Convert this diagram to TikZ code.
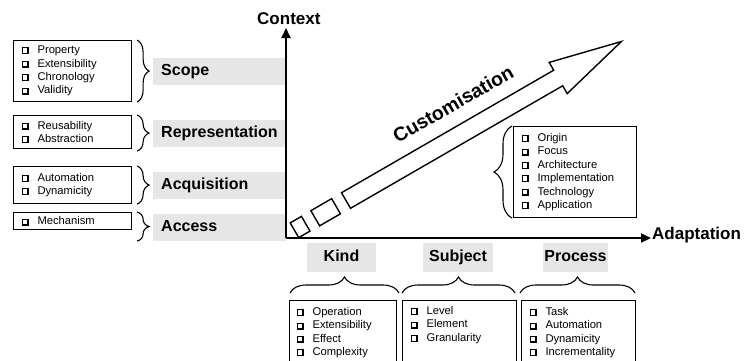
\documentclass[tikz,border=0pt]{standalone}
\usepackage{fontspec}
\setmainfont{Liberation Sans}
\usetikzlibrary{arrows.meta,decorations.pathreplacing}
\definecolor{labelgray}{RGB}{230,230,230}
% shadowed check box in front of every list item, built from rules
\newcommand\cbx{%
  \rlap{\rule[-0.8pt]{7pt}{7pt}}%
  \rlap{\hspace{1pt}\textcolor{white}{\rule[0.7pt]{4.5pt}{4.5pt}}}%
  \hspace{7pt}}
\newcommand\itm[1]{\makebox[16pt][l]{\cbx}#1}

\begin{document}
\begin{tikzpicture}[x=1pt,y=-1pt,
  listbox/.style={draw, line width=1.1pt, anchor=north west, inner xsep=8pt,
    inner ysep=0pt, align=left, font=\fontsize{11.2}{13.4}\selectfont},
  leftlabel/.style={fill=labelgray, anchor=west, minimum height=27pt,
    text width=117pt, inner xsep=8pt, inner ysep=0pt, align=left,
    text height=11.5pt, text depth=3.5pt,
    font=\bfseries\fontsize{16}{16}\selectfont},
  botlabel/.style={fill=labelgray, minimum height=29pt, inner sep=0pt,
    text height=11.5pt, text depth=3.5pt,
    font=\bfseries\fontsize{16}{16}\selectfont},
  axislabel/.style={inner sep=0pt, font=\bfseries\fontsize{17}{17}\selectfont},
  bracestyle/.style={line width=1.1pt, decorate,
    decoration={brace, amplitude=#1}},
  axis/.style={line width=2pt, -{Triangle[width=9pt,length=10pt]}},
  shapeline/.style={line width=1.4pt, line join=miter, fill=white}
]
\useasboundingbox (0,0) rectangle (751,360);
\clip (0,0) rectangle (751,360);

% grey category labels along the Context axis
\node[leftlabel] (scope) at (153,71.5) {Scope};
\node[leftlabel] (repr)  at (153,133.5) {Representation};
\node[leftlabel] (acq)   at (153,185.5) {Acquisition};
\node[leftlabel] (acc)   at (153,227) {Access};

% grey category labels below the Adaptation axis
\node[botlabel, minimum width=69pt] (kind)    at (341.5,257.5) {Kind};
\node[botlabel, minimum width=70pt] (subject) at (458,257.5) {Subject};
\node[botlabel, minimum width=65pt] (process) at (575.5,257.5) {Process};

% axes
\coordinate (O) at (286,238);
\coordinate (ytip) at (286,28);
\coordinate (xtip) at (651,238);
\draw[axis] (O) -- (ytip);
\draw[axis] (O) -- (xtip);
\node[axislabel, anchor=base west] (ctx) at (257,24) {Context};
\node[axislabel, anchor=base west] (adapt) at (652,239.5) {Adaptation};

% item lists on the left
\node[listbox, text width=102pt, minimum height=61pt] (scopebox) at (13,40)
  {\itm{Property}\\\itm{Extensibility}\\\itm{Chronology}\\\itm{Validity}};
\node[listbox, text width=102pt, minimum height=33pt] (reprbox) at (13,115)
  {\itm{Reusability}\\\itm{Abstraction}};
\node[listbox, text width=102pt, minimum height=37pt] (acqbox) at (13,166)
  {\itm{Automation}\\\itm{Dynamicity}};
\node[listbox, text width=102pt, minimum height=17pt] (accbox) at (13,212)
  {\itm{Mechanism}};

\draw[bracestyle=12pt] ([xshift=5pt]scopebox.north east) -- ([xshift=5pt]scopebox.south east);
\draw[bracestyle=12pt] ([xshift=5pt]reprbox.north east) -- ([xshift=5pt,yshift=-2pt]reprbox.south east);
\draw[bracestyle=12pt] ([xshift=5pt]acqbox.north east) -- ([xshift=5pt]acqbox.south east);
\draw[bracestyle=12pt] ([xshift=5pt]accbox.north east) -- ([xshift=5pt,yshift=-11pt]accbox.south east);

% item list on the right
\node[listbox, text width=107pt, minimum height=91pt] (custbox) at (513,126)
  {\itm{Origin}\\\itm{Focus}\\\itm{Architecture}\\\itm{Implementation}\\\itm{Technology}\\\itm{Application}};
\draw[bracestyle=18pt] ([xshift=-1pt]custbox.south west) -- ([xshift=-1pt]custbox.north west);

% item lists below
\node[listbox, text width=93pt, minimum height=64pt, inner xsep=7pt] (kindbox) at (289,300)
  {\itm{Operation}\\\itm{Extensibility}\\\itm{Effect}\\\itm{Complexity}};
\node[listbox, text width=98pt, minimum height=64pt] (subjbox) at (402,300)
  {\itm{Level}\\\itm{Element}\\\itm{Granularity}\\\strut};
\node[listbox, text width=98pt, minimum height=64pt] (procbox) at (521,300)
  {\itm{Task}\\\itm{Automation}\\\itm{Dynamicity}\\\itm{Incrementality}};

\draw[bracestyle=16pt] (290,293) -- (399,293);
\draw[bracestyle=16pt] (402,293) -- (515,293);
\draw[bracestyle=16pt] (520,293) -- (635,293);

% the Customisation arrow with its two leading blocks
\begin{scope}[shift={(346,200.5)}, rotate=30]
  \draw[shapeline] (0,-9) -- (245,-9) -- (245,-18) -- (318,0) -- (245,18)
    -- (245,9) -- (0,9) -- cycle;
  \draw[shapeline] (-35.5,-8.75) rectangle (-11.5,8.75);
  \draw[shapeline] (-59.5,-8.5) rectangle (-46.5,8.5);
  \node[rotate=30, inner sep=0pt, font=\bfseries\fontsize{19.5}{19.5}\selectfont]
    (cust) at (141,-30) {Customisation};
\end{scope}
\end{tikzpicture}
\end{document}
